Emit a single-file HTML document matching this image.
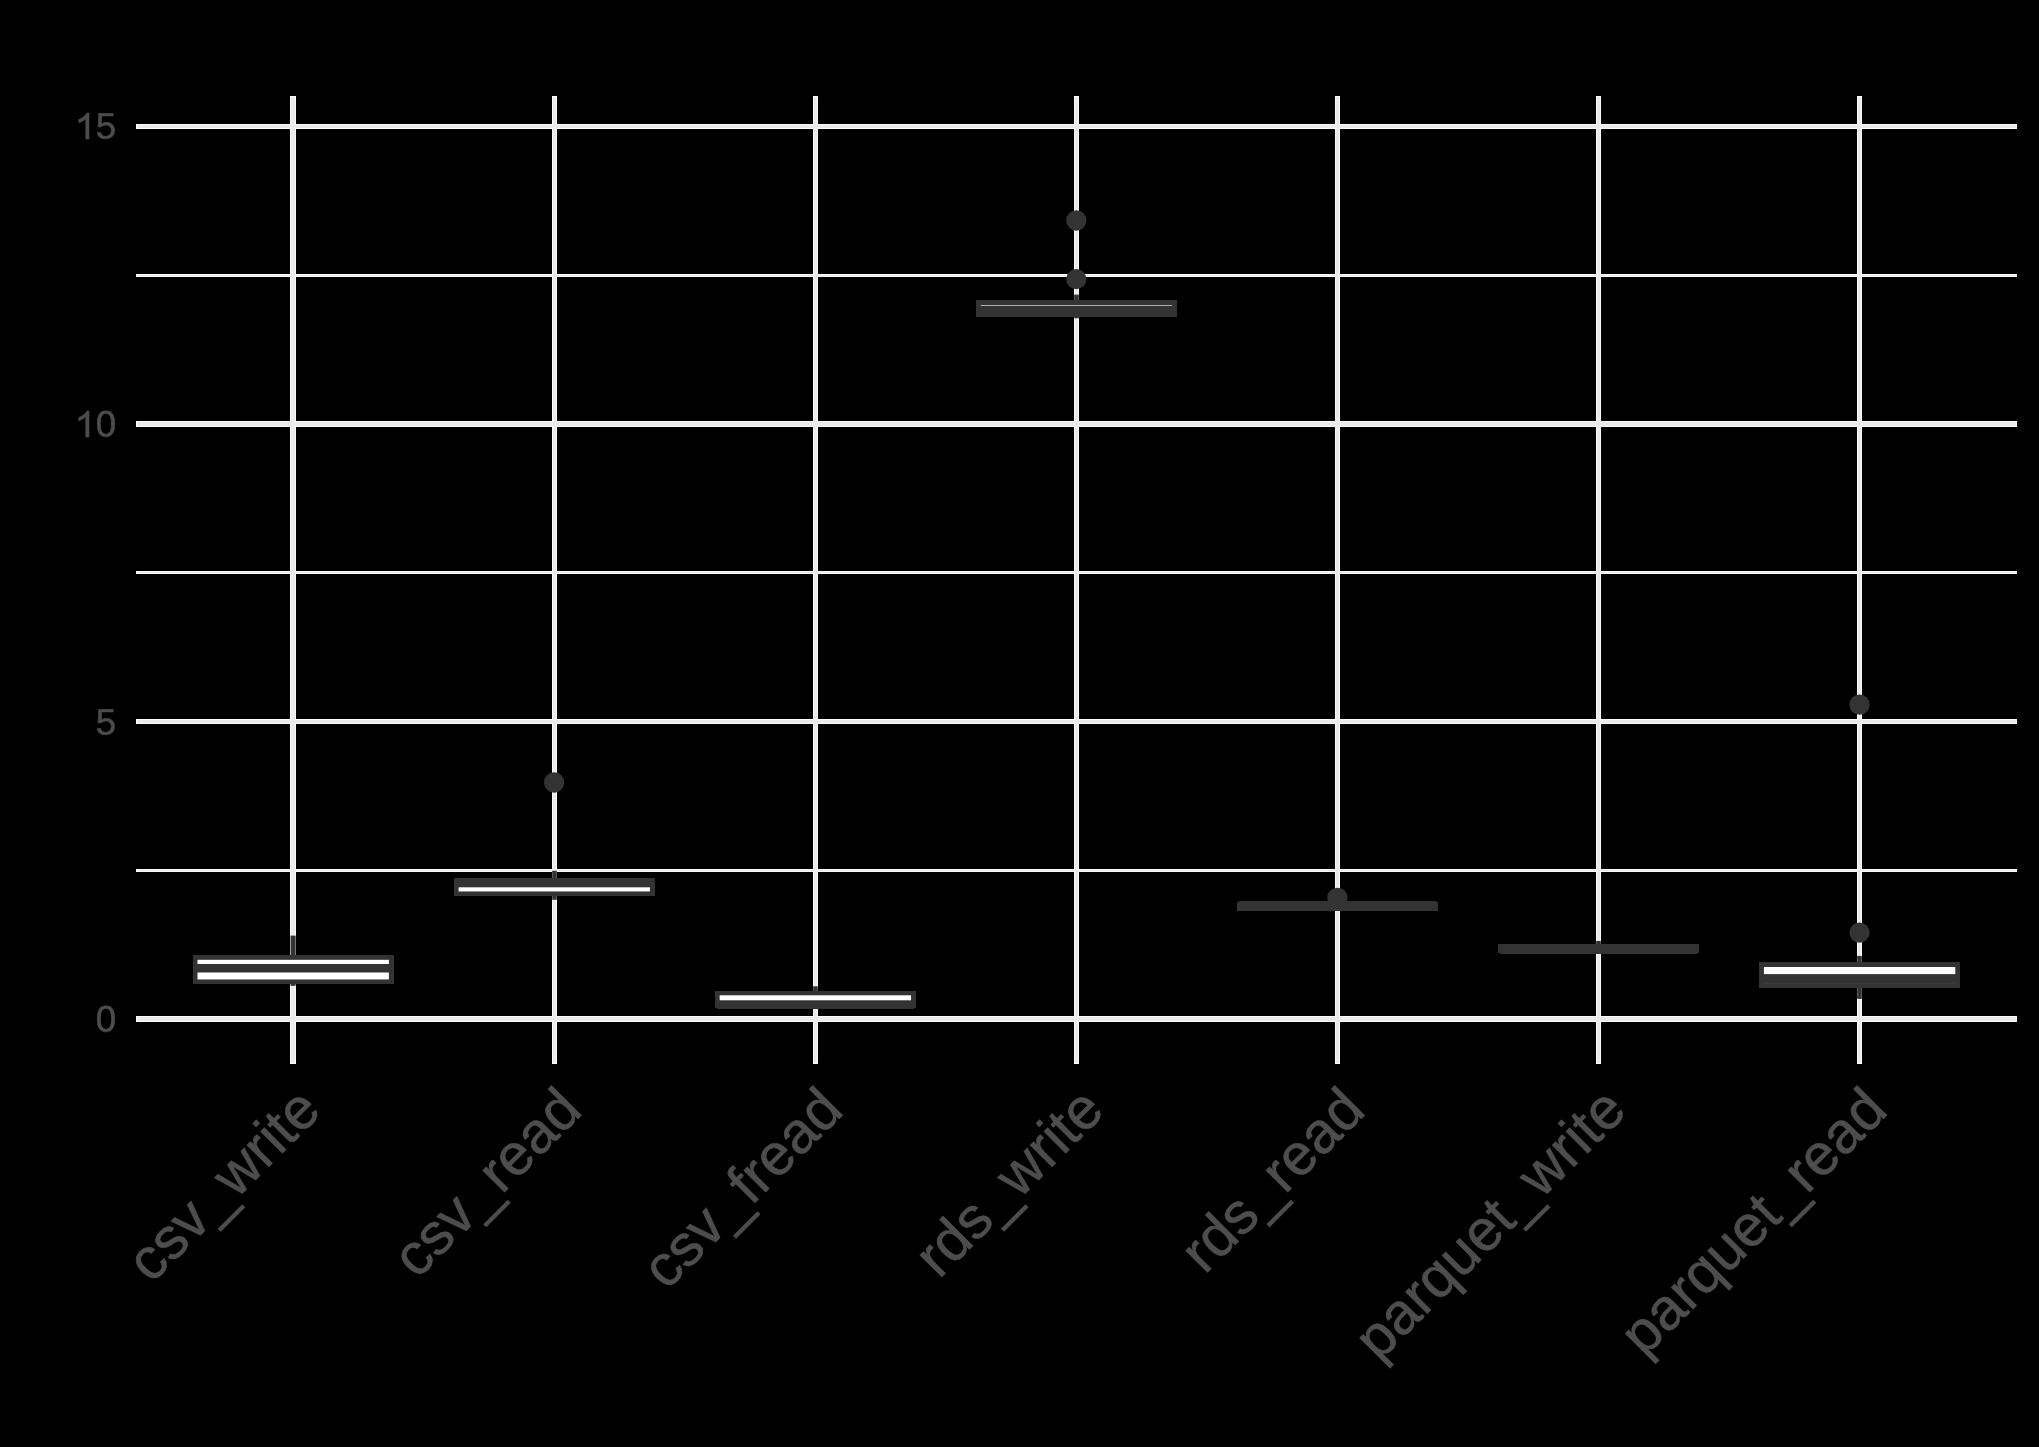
<!DOCTYPE html>
<html lang="en">
<head>
<meta charset="utf-8">
<title>File format benchmark boxplot</title>
<style>
html,body{margin:0;padding:0;background:#000;}
body{width:2039px;height:1447px;overflow:hidden;font-family:"Liberation Sans",sans-serif;}
svg{display:block;position:absolute;left:0;top:0;}
text{font-family:"Liberation Sans",sans-serif;text-rendering:geometricPrecision;}
</style>
</head>
<body>
<svg width="2039" height="1447" viewBox="0 0 2039 1447">
<rect x="0" y="0" width="2039" height="1447" fill="#000000"/>
<g id="grid">
<rect x="136" y="274" width="1881" height="3" fill="#fafafa" shape-rendering="crispEdges"/>
<rect x="136" y="571" width="1881" height="3" fill="#fafafa" shape-rendering="crispEdges"/>
<rect x="136" y="869" width="1881" height="3" fill="#fafafa" shape-rendering="crispEdges"/>
<rect x="290" y="96" width="6" height="968" fill="#fafafa" shape-rendering="crispEdges"/>
<rect x="552" y="96" width="5" height="968" fill="#fafafa" shape-rendering="crispEdges"/>
<rect x="813" y="96" width="5" height="968" fill="#fafafa" shape-rendering="crispEdges"/>
<rect x="1074" y="96" width="5" height="968" fill="#fafafa" shape-rendering="crispEdges"/>
<rect x="1335" y="96" width="5" height="968" fill="#fafafa" shape-rendering="crispEdges"/>
<rect x="1596" y="96" width="5" height="968" fill="#fafafa" shape-rendering="crispEdges"/>
<rect x="1857" y="96" width="5" height="968" fill="#fafafa" shape-rendering="crispEdges"/>
<rect x="136" y="124" width="1881" height="5" fill="#fafafa" shape-rendering="crispEdges"/>
<rect x="136" y="421" width="1881" height="6" fill="#fafafa" shape-rendering="crispEdges"/>
<rect x="136" y="719" width="1881" height="5" fill="#fafafa" shape-rendering="crispEdges"/>
<rect x="136" y="1016" width="1881" height="6" fill="#fafafa" shape-rendering="crispEdges"/>
<rect x="137" y="275" width="1879" height="1" fill="#ebebeb" shape-rendering="crispEdges"/>
<rect x="137" y="572" width="1879" height="1" fill="#ebebeb" shape-rendering="crispEdges"/>
<rect x="137" y="870" width="1879" height="1" fill="#ebebeb" shape-rendering="crispEdges"/>
<rect x="137" y="125" width="1879" height="3" fill="#ebebeb" shape-rendering="crispEdges"/>
<rect x="137" y="422" width="1879" height="4" fill="#ebebeb" shape-rendering="crispEdges"/>
<rect x="137" y="720" width="1879" height="3" fill="#ebebeb" shape-rendering="crispEdges"/>
<rect x="137" y="1017" width="1879" height="4" fill="#ebebeb" shape-rendering="crispEdges"/>
<rect x="291" y="97" width="4" height="966" fill="#ebebeb" shape-rendering="crispEdges"/>
<rect x="553" y="97" width="3" height="966" fill="#ebebeb" shape-rendering="crispEdges"/>
<rect x="814" y="97" width="3" height="966" fill="#ebebeb" shape-rendering="crispEdges"/>
<rect x="1075" y="97" width="3" height="966" fill="#ebebeb" shape-rendering="crispEdges"/>
<rect x="1336" y="97" width="3" height="966" fill="#ebebeb" shape-rendering="crispEdges"/>
<rect x="1597" y="97" width="3" height="966" fill="#ebebeb" shape-rendering="crispEdges"/>
<rect x="1858" y="97" width="3" height="966" fill="#ebebeb" shape-rendering="crispEdges"/>
</g>
<g id="boxes">
<rect x="290" y="935.6" width="1" height="19.4" fill="#a0a0a0"/>
<rect x="295" y="935.6" width="1" height="19.4" fill="#787878"/>
<rect x="291" y="935.6" width="4" height="19.4" fill="#333333"/>
<rect x="290" y="984" width="1" height="1.8" fill="#a0a0a0"/>
<rect x="295" y="984" width="1" height="1.8" fill="#787878"/>
<rect x="291" y="984" width="4" height="1.8" fill="#333333"/>
<rect x="193" y="955" width="201" height="29" fill="#333333" shape-rendering="crispEdges"/>
<rect x="197.52" y="959.8" width="191.35" height="4.2" fill="#ffffff"/>
<rect x="197.52" y="972.5" width="191.35" height="6.95" fill="#ffffff"/>
<circle cx="554.17" cy="782.50" r="10.15" fill="#333333"/>
<rect x="552" y="870.8" width="1" height="7.2" fill="#585858"/>
<rect x="556" y="870.8" width="1" height="7.2" fill="#585858"/>
<rect x="553" y="870.8" width="3" height="7.2" fill="#333333"/>
<rect x="552" y="896" width="1" height="3.8" fill="#585858"/>
<rect x="556" y="896" width="1" height="3.8" fill="#585858"/>
<rect x="553" y="896" width="3" height="3.8" fill="#333333"/>
<rect x="454" y="878" width="201" height="18" fill="#333333" shape-rendering="crispEdges"/>
<rect x="458.6" y="887.3" width="191.35" height="4.15" fill="#ffffff"/>
<rect x="813" y="986.3" width="1" height="4.7" fill="#585858"/>
<rect x="817" y="986.3" width="1" height="4.7" fill="#585858"/>
<rect x="814" y="986.3" width="3" height="4.7" fill="#333333"/>
<rect x="715" y="991" width="201" height="18" fill="#333333" shape-rendering="crispEdges"/>
<rect x="715" y="1008" width="2" height="1" fill="#000000" shape-rendering="crispEdges"/>
<rect x="914" y="1008" width="2" height="1" fill="#000000" shape-rendering="crispEdges"/>
<rect x="719.66" y="995.3" width="191.35" height="5" fill="#ffffff"/>
<circle cx="1076.31" cy="220.50" r="10.15" fill="#333333"/>
<circle cx="1076.31" cy="279.10" r="10.15" fill="#333333"/>
<rect x="1074" y="294.6" width="1" height="5.4" fill="#585858"/>
<rect x="1078" y="294.6" width="1" height="5.4" fill="#585858"/>
<rect x="1075" y="294.6" width="3" height="5.4" fill="#333333"/>
<rect x="1074" y="317" width="1" height="1.3" fill="#585858"/>
<rect x="1078" y="317" width="1" height="1.3" fill="#585858"/>
<rect x="1075" y="317" width="3" height="1.3" fill="#333333"/>
<rect x="976" y="300" width="201" height="17" fill="#333333" shape-rendering="crispEdges"/>
<rect x="980.74" y="305" width="191.35" height="0.6" fill="#ffffff"/>
<circle cx="1337.38" cy="897.80" r="10.15" fill="#333333"/>
<rect x="1237" y="901" width="201" height="10" fill="#333333" shape-rendering="crispEdges"/>
<rect x="1237" y="901" width="2" height="1" fill="#000000" shape-rendering="crispEdges"/>
<rect x="1436" y="901" width="2" height="1" fill="#000000" shape-rendering="crispEdges"/>
<rect x="1596" y="940.9" width="1" height="3.1" fill="#585858"/>
<rect x="1600" y="940.9" width="1" height="3.1" fill="#585858"/>
<rect x="1597" y="940.9" width="3" height="3.1" fill="#333333"/>
<rect x="1498" y="944" width="201" height="10" fill="#333333" shape-rendering="crispEdges"/>
<rect x="1498" y="953" width="2" height="1" fill="#000000" shape-rendering="crispEdges"/>
<rect x="1697" y="953" width="2" height="1" fill="#000000" shape-rendering="crispEdges"/>
<circle cx="1859.52" cy="704.70" r="10.15" fill="#333333"/>
<circle cx="1859.52" cy="932.60" r="10.15" fill="#333333"/>
<rect x="1857" y="955.9" width="1" height="6.1" fill="#585858"/>
<rect x="1861" y="955.9" width="1" height="6.1" fill="#585858"/>
<rect x="1858" y="955.9" width="3" height="6.1" fill="#333333"/>
<rect x="1857" y="988" width="1" height="10.9" fill="#585858"/>
<rect x="1861" y="988" width="1" height="10.9" fill="#585858"/>
<rect x="1858" y="988" width="3" height="10.9" fill="#333333"/>
<rect x="1759" y="962" width="201" height="26" fill="#333333" shape-rendering="crispEdges"/>
<rect x="1763.94" y="967" width="191.35" height="7.1" fill="#ffffff"/>
<rect x="1763.94" y="983.1" width="191.35" height="0.9" fill="#3c3c3c"/>
</g>
<g id="ylab" opacity="0.999" font-family="Liberation Sans, sans-serif" font-size="36.67" fill="#4d4d4d" stroke="#4d4d4d" stroke-width="0.6" stroke-linejoin="round">
<path transform="translate(75.32 139.00) scale(0.017905 -0.017637)" d="M763 0H583V1147Q518 1085 405 1020Q292 955 185 925V1100Q360 1172 480 1274Q600 1377 647 1472H763Z" stroke-width="33.5"/>
<text transform="translate(95.71 138.50) rotate(0.03) scale(1 1.0)" x="0" y="0">5</text>
<path transform="translate(75.32 437.00) scale(0.017905 -0.017637)" d="M763 0H583V1147Q518 1085 405 1020Q292 955 185 925V1100Q360 1172 480 1274Q600 1377 647 1472H763Z" stroke-width="33.5"/>
<text transform="translate(95.71 436.50) rotate(0.03) scale(1 1.0)" x="0" y="0">0</text>
<text transform="translate(95.71 734.45) rotate(0.03) scale(1 1.0)" x="0" y="0">5</text>
<text transform="translate(95.71 1031.60) rotate(0.03) scale(1 1.0)" x="0" y="0">0</text>
</g>
<g id="xlab" font-family="Liberation Sans, sans-serif" font-size="58.33" fill="#4d4d4d" stroke="#4d4d4d" stroke-width="0.6" stroke-linejoin="round" text-anchor="end">
<text transform="translate(293.70 1083.00) rotate(-45)" x="0" y="41.76">csv_write</text>
<text transform="translate(554.77 1083.00) rotate(-45)" x="0" y="41.76">csv_read</text>
<text transform="translate(815.84 1083.00) rotate(-45)" x="0" y="41.76">csv_fread</text>
<text transform="translate(1076.91 1083.00) rotate(-45)" x="0" y="41.76">rds_write</text>
<text transform="translate(1337.98 1083.00) rotate(-45)" x="0" y="41.76">rds_read</text>
<text transform="translate(1599.05 1083.00) rotate(-45)" x="0" y="41.76">parquet_write</text>
<text transform="translate(1860.12 1083.00) rotate(-45)" x="0" y="41.76">parquet_read</text>
</g>
</svg>
</body>
</html>
